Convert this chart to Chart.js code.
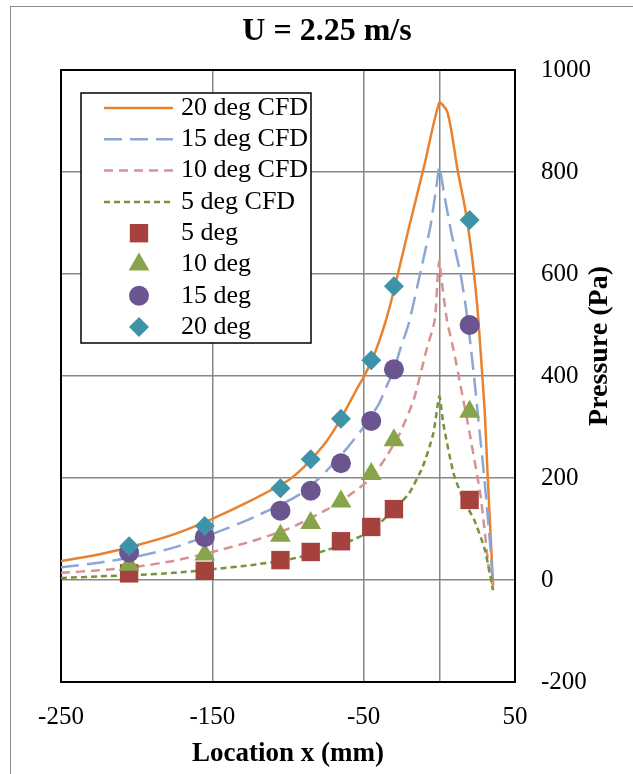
<!DOCTYPE html>
<html>
<head>
<meta charset="utf-8">
<script src="https://cdn.jsdelivr.net/npm/chart.js@4.4.0/dist/chart.umd.min.js"></script>
<style>
  body { margin: 0; background: #fff; }
  #wrap { width: 633px; height: 774px; position: relative; }
</style>
</head>
<body>
<div id="wrap"><canvas id="pressure-chart"></canvas></div>
<script>
// measured stations along the plate (mm) and pressures (Pa)
const expX = [-205, -155, -105, -85, -65, -45, -30, 20];
const exp5 = [13, 18, 39, 55, 76, 104, 139, 157];
const exp10 = [30, 50, 87, 112, 154, 208, 274, 330];
const exp15 = [54, 84, 136, 175, 229, 312, 413, 500];
const exp20 = [66, 106, 180, 237, 316, 431, 576, 706];

// CFD pressure profiles
const cfd20X = [-250, -225, -200, -175, -150, -125, -100, -90, -85, -80, -75, -70, -65, -60, -55, -50, -45, -40, -35, -30, -20, -10, 0, 5, 8, 12, 16, 19, 22, 25, 27, 30, 32, 34, 35.5];
const cfd20P = [37, 50, 68, 90, 120, 155, 195, 220, 236, 252, 270, 292, 317, 344, 372, 398, 428, 466, 512, 568, 692, 812, 936, 920, 880, 805, 745, 692, 625, 540, 460, 330, 200, 80, -10];

const cfd15X = [-250, -225, -200, -175, -150, -125, -100, -90, -85, -80, -70, -60, -50, -40, -35, -30, -26, -20, -12, -6, -2, 0, 3, 8, 14, 18, 21, 23.4, 25.6, 29, 32, 34.2, 35.3];
const cfd15P = [25, 34, 46, 64, 90, 120, 155, 172, 185, 198, 228, 262, 300, 345, 379, 412, 451, 505, 610, 692, 770, 810, 760, 680, 600, 525, 451, 386, 320, 222, 124, 46, -15];

const cfd10X = [-250, -225, -200, -175, -150, -125, -100, -75, -60, -45, -35, -26, -17, -8.5, -3, -1, 0, 1, 5, 9.4, 13.7, 20, 27, 30, 33, 35];
const cfd10P = [14, 19, 26, 38, 55, 75, 100, 137, 165, 200, 242, 288, 353, 451, 510, 600, 627, 600, 510, 451, 386, 288, 170, 95, 15, -8];

const cfd5X = [-250, -225, -200, -175, -150, -125, -100, -75, -60, -46, -37, -28, -20, -11, -4, 0, 2.6, 9.4, 16, 23, 29.5, 33, 35.5];
const cfd5P = [4, 7, 10, 14, 21, 29, 40, 58, 75, 95, 118, 144, 170, 222, 287, 360, 307, 209, 157, 118, 65, 20, -20];

// axis ticks
const xTicks = [-250, -150, -50, 0, 50];
const xTickLabels = [-250, -150, -50, 50];

const pts = (xs, ys) => xs.map((x, i) => ({ x: x, y: ys[i] }));

const serif = '"Liberation Serif", "Times New Roman", serif';
const gridGray = '#878787';

function cfdLine(label, xs, ys, color, dash, order) {
    return {
        label: label,
        data: pts(xs, ys),
        showLine: true,
        borderColor: color,
        backgroundColor: color,
        borderWidth: 2.5,
        borderDash: dash,
        pointRadius: 0,
        tension: 0.2,
        order: order
    };
}

function expPoints(label, ys, color, style, radius, order) {
    return {
        label: label,
        data: pts(expX, ys),
        showLine: false,
        pointStyle: style,
        pointRadius: radius,
        pointHoverRadius: radius,
        backgroundColor: color,
        borderColor: color,
        borderWidth: 0,
        order: order
    };
}

const datasets = [
    cfdLine('20 deg CFD', cfd20X, cfd20P, '#E8822F', [], 7),
    cfdLine('15 deg CFD', cfd15X, cfd15P, '#8DA7D4', [18, 8], 6),
    cfdLine('10 deg CFD', cfd10X, cfd10P, '#D7918F', [9, 6], 5),
    cfdLine('5 deg CFD', cfd5X, cfd5P, '#77933C', [6, 4], 4),
    expPoints('5 deg', exp5, '#A5423E', 'rect', 13, 3),
    expPoints('10 deg', exp10, '#88A44A', 'triangle', 12, 2),
    expPoints('15 deg', exp15, '#6B558F', 'circle', 10, 1),
    expPoints('20 deg', exp20, '#3D93A8', 'rectRot', 10, 0)
];

// background, frames, title, y title and the legend box
const decorations = {
    id: 'decorations',
    beforeDraw(chart) {
        const ctx = chart.ctx;
        ctx.save();
        ctx.fillStyle = '#fff';
        ctx.fillRect(0, 0, chart.width, chart.height);
        ctx.strokeStyle = '#8c8c8c';
        ctx.lineWidth = 1;
        ctx.strokeRect(10.5, 6.5, chart.width + 20, chart.height + 20);
        ctx.restore();
    },
    beforeDatasetsDraw(chart) {
        const ctx = chart.ctx;
        const a = chart.chartArea;
        ctx.save();
        ctx.strokeStyle = '#000';
        ctx.lineWidth = 2;
        ctx.strokeRect(a.left, a.top, a.right - a.left, a.bottom - a.top);
        ctx.restore();
    },
    afterDraw(chart) {
        const ctx = chart.ctx;
        ctx.save();
        ctx.fillStyle = '#000';
        ctx.textBaseline = 'middle';

        ctx.textAlign = 'center';
        ctx.font = 'bold 32px ' + serif;
        ctx.fillText('U = 2.25 m/s', 327, 32);

        ctx.save();
        ctx.translate(600, 346);
        ctx.rotate(-Math.PI / 2);
        ctx.font = 'bold 28px ' + serif;
        ctx.fillText('Pressure (Pa)', 0, 0);
        ctx.restore();

        // legend
        const lx = 81, ly = 93, lw = 230, lh = 250;
        ctx.fillStyle = '#fff';
        ctx.fillRect(lx, ly, lw, lh);
        ctx.strokeStyle = '#000';
        ctx.lineWidth = 1.5;
        ctx.strokeRect(lx, ly, lw, lh);

        ctx.textAlign = 'left';
        ctx.font = '26px ' + serif;
        chart.data.datasets.forEach((ds, i) => {
            const cy = ly + 15 + i * 31.3;
            if (ds.showLine) {
                ctx.save();
                ctx.strokeStyle = ds.borderColor;
                ctx.lineWidth = ds.borderWidth;
                ctx.setLineDash(ds.borderDash);
                ctx.beginPath();
                ctx.moveTo(104, cy);
                ctx.lineTo(173, cy);
                ctx.stroke();
                ctx.restore();
            } else {
                ctx.fillStyle = ds.backgroundColor;
                Chart.helpers.drawPoint(ctx, {
                    pointStyle: ds.pointStyle,
                    radius: ds.pointRadius,
                    rotation: 0,
                    borderWidth: 0
                }, 139, cy);
            }
            ctx.fillStyle = '#000';
            ctx.fillText(ds.label, 181, cy);
        });
        ctx.restore();
    }
};

new Chart('pressure-chart', {
    type: 'scatter',
    data: { datasets: datasets },
    options: {
        responsive: true,
        maintainAspectRatio: false,
        animation: false,
        layout: { padding: { left: 61, top: 70, right: 0, bottom: 0 } },
        plugins: {
            legend: { display: false },
            tooltip: { enabled: false }
        },
        scales: {
            x: {
                type: 'linear',
                position: 'bottom',
                min: -250,
                max: 50,
                afterBuildTicks: scale => {
                    scale.ticks = xTicks.map(v => ({ value: v }));
                },
                afterFit: scale => { scale.height = 92; },
                grid: { color: gridGray, lineWidth: 1.5, drawTicks: false },
                border: { display: false },
                ticks: {
                    autoSkip: false,
                    maxRotation: 0,
                    padding: 20,
                    color: '#000',
                    font: { family: serif, size: 25 },
                    callback: v => xTickLabels.includes(v) ? String(v) : ''
                },
                title: {
                    display: true,
                    text: 'Location x (mm)',
                    color: '#000',
                    font: { family: serif, size: 27, weight: 'bold' },
                    padding: { top: 0, bottom: 4 }
                }
            },
            y: {
                type: 'linear',
                position: 'right',
                min: -200,
                max: 1000,
                afterFit: scale => { scale.width = 118; },
                grid: { color: gridGray, lineWidth: 1.5, drawTicks: false },
                border: { display: false },
                ticks: {
                    stepSize: 200,
                    padding: 26,
                    color: '#000',
                    font: { family: serif, size: 25 },
                    callback: v => String(v)
                }
            }
        }
    },
    plugins: [decorations]
});
</script>
</body>
</html>
